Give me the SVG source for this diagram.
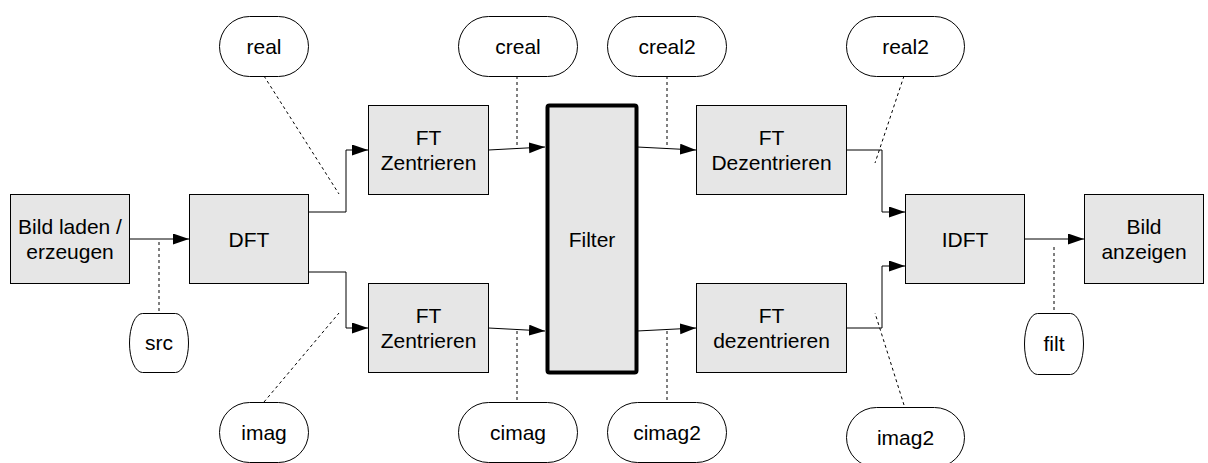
<svg xmlns="http://www.w3.org/2000/svg" width="1208" height="463" viewBox="0 0 1208 463">
<style>
.box{fill:#e6e6e6;stroke:#000;stroke-width:1}
.filter{fill:#e6e6e6;stroke:#000;stroke-width:4}
.lbl{fill:#fff;stroke:#000;stroke-width:1}
.t{font-family:"Liberation Sans",Arial,sans-serif;font-size:21px;fill:#000;text-anchor:middle}
.c{fill:none;stroke:#000;stroke-width:1}
.d{fill:none;stroke:#000;stroke-width:1;stroke-dasharray:3 3}
</style>
<defs>
<marker id="ah" markerUnits="userSpaceOnUse" markerWidth="16" markerHeight="12" refX="16" refY="5.5" orient="auto">
<path d="M0,0 L16,5.5 L0,11 Z" fill="#000"/>
</marker>
</defs>
<rect width="1208" height="463" fill="#fff"/>
<g id="connectors">
<path class="c" d="M129.5 239 H189" marker-end="url(#ah)"/>
<path class="d" d="M159 242 V312"/>
<path class="c" d="M308.5 212 H346 V150 H368" marker-end="url(#ah)"/>
<path class="c" d="M308.5 272 H346 V328 H368" marker-end="url(#ah)"/>
<path class="d" d="M264 76 L339 194"/>
<path class="d" d="M264 402 L339 313"/>
<path class="c" d="M488.5 150 L545 147" marker-end="url(#ah)"/>
<path class="c" d="M488.5 328 L545 331" marker-end="url(#ah)"/>
<path class="d" d="M517 76 V149"/>
<path class="d" d="M517 331 V402"/>
<path class="c" d="M637 147 L696 150" marker-end="url(#ah)"/>
<path class="c" d="M637 331 L696 328" marker-end="url(#ah)"/>
<path class="d" d="M667 76 V149"/>
<path class="d" d="M667 331 V402"/>
<path class="c" d="M846.5 150 H882 V212 H905" marker-end="url(#ah)"/>
<path class="c" d="M846.5 328 H882 V266 H905" marker-end="url(#ah)"/>
<path class="d" d="M904 76 L875 163"/>
<path class="d" d="M904 405 L875 313"/>
<path class="c" d="M1024.5 239 H1084" marker-end="url(#ah)"/>
<path class="d" d="M1054 247 V310"/>
</g>
<g id="bild-laden"><rect class="box" x="10.5" y="194.5" width="119" height="89"/><text class="t" x="70" y="234">Bild laden /</text><text class="t" x="70" y="259">erzeugen</text></g>
<g id="dft"><rect class="box" x="189.5" y="194.5" width="119" height="89"/><text class="t" x="249" y="246.5">DFT</text></g>
<g id="ftz-top"><rect class="box" x="368.5" y="105.5" width="120" height="89"/><text class="t" x="428.5" y="145">FT</text><text class="t" x="428.5" y="170">Zentrieren</text></g>
<g id="ftz-bottom"><rect class="box" x="368.5" y="283.5" width="120" height="89"/><text class="t" x="428.5" y="323">FT</text><text class="t" x="428.5" y="348">Zentrieren</text></g>
<g id="filter"><rect class="filter" x="547.5" y="105.5" width="89" height="267" rx="2"/><text class="t" x="592" y="246.5">Filter</text></g>
<g id="ftd-top"><rect class="box" x="696.5" y="105.5" width="150" height="89"/><text class="t" x="771.5" y="145">FT</text><text class="t" x="771.5" y="170">Dezentrieren</text></g>
<g id="ftd-bottom"><rect class="box" x="696.5" y="283.5" width="150" height="89"/><text class="t" x="771.5" y="323">FT</text><text class="t" x="771.5" y="348">dezentrieren</text></g>
<g id="idft"><rect class="box" x="905.5" y="194.5" width="119" height="89"/><text class="t" x="965" y="246.5">IDFT</text></g>
<g id="bild-anzeigen"><rect class="box" x="1084.5" y="194.5" width="119" height="89"/><text class="t" x="1144" y="234">Bild</text><text class="t" x="1144" y="259">anzeigen</text></g>
<g id="real"><rect class="lbl" x="219.5" y="16.5" width="89" height="60" rx="30"/><text class="t" x="264" y="53.5">real</text></g>
<g id="imag"><rect class="lbl" x="219.5" y="402.5" width="89" height="60" rx="30"/><text class="t" x="264" y="439.5">imag</text></g>
<g id="creal"><rect class="lbl" x="458.5" y="16.5" width="119" height="60" rx="30"/><text class="t" x="518" y="53.5">creal</text></g>
<g id="cimag"><rect class="lbl" x="458.5" y="402.5" width="119" height="60" rx="30"/><text class="t" x="518" y="439.5">cimag</text></g>
<g id="creal2"><rect class="lbl" x="607.5" y="16.5" width="119" height="60" rx="30"/><text class="t" x="667" y="53.5">creal2</text></g>
<g id="cimag2"><rect class="lbl" x="607.5" y="402.5" width="119" height="60" rx="30"/><text class="t" x="667" y="439.5">cimag2</text></g>
<g id="real2"><rect class="lbl" x="846.5" y="16.5" width="118" height="60" rx="30"/><text class="t" x="905.5" y="53.5">real2</text></g>
<g id="imag2"><rect class="lbl" x="846.5" y="407.5" width="118" height="60" rx="30"/><text class="t" x="905.5" y="444.5">imag2</text></g>
<g id="src"><rect class="lbl" x="129.5" y="313.5" width="59" height="59" rx="13" ry="29.5"/><text class="t" x="159" y="350">src</text></g>
<g id="filt"><rect class="lbl" x="1024.5" y="313.5" width="59" height="61" rx="13" ry="30.5"/><text class="t" x="1054" y="351">filt</text></g>
</svg>
